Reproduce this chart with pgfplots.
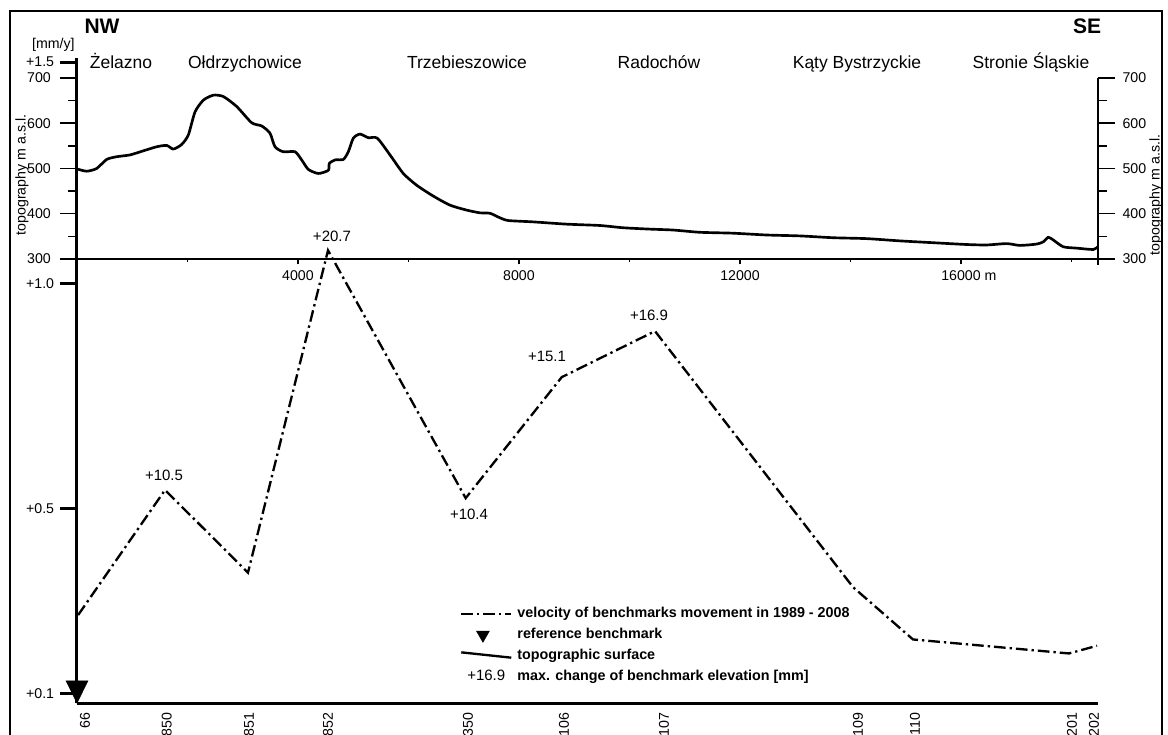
\documentclass[border=0pt]{standalone}
\usepackage{pgfplots}
\pgfplotsset{compat=1.18}
\pgfplotsset{scaled x ticks=false, scaled y ticks=false}
\usepackage{fontspec}
\setmainfont{Liberation Sans}
\newcommand{\tickfont}{\fontsize{8.5}{10}\selectfont}
\newcommand{\townfont}{\fontsize{10.5}{12}\selectfont}
\begin{document}
\begin{tikzpicture}
\useasboundingbox (0,0) rectangle (700.8pt,441pt);
% outer frame
\draw[line width=1.6pt] (6pt,0pt) -- (6pt,434.4pt) -- (697.2pt,434.4pt) -- (697.2pt,0pt);

% ---------- topography: left y ticks ----------
\begin{axis}[
  at={(46.2pt,285.6pt)}, anchor=south west, scale only axis,
  width=612.6pt, height=108.6pt,
  xmin=0, xmax=18480, ymin=300, ymax=700,
  axis line style={draw=none},
  xtick=\empty,
  ytick={300,400,500,600,700}, yticklabels={300,400,500,600,700},
  minor ytick={350,450,550,650},
  ytick pos=left, tick align=outside,
  major tick length=10.2pt, minor tick length=5.4pt,
  tick style={black, line width=0.9pt},
  yticklabel style={font=\tickfont, xshift=-2pt},
]
\addplot[draw=none] coordinates {(0,300)};
\end{axis}

% ---------- topography: right y ticks ----------
\begin{axis}[
  at={(46.2pt,285.6pt)}, anchor=south west, scale only axis,
  width=612.6pt, height=108.6pt,
  xmin=0, xmax=18480, ymin=300, ymax=700,
  axis line style={draw=none},
  xtick=\empty,
  ytick={300,400,500,600,700}, yticklabels={300,400,500,600,700},
  minor ytick={350,450,550,650},
  ytick pos=right, yticklabel pos=right, tick align=outside,
  major tick length=10.2pt, minor tick length=5.4pt,
  tick style={black, line width=0.9pt},
  yticklabel style={font=\tickfont, xshift=1pt},
]
\addplot[draw=none] coordinates {(0,300)};
\end{axis}

% ---------- topography: x axis and profile ----------
\begin{axis}[
  at={(46.2pt,285.6pt)}, anchor=south west, scale only axis,
  width=612.6pt, height=108.6pt,
  xmin=0, xmax=18480, ymin=300, ymax=700,
  axis line style={draw=none},
  ytick=\empty,
  xtick={4000,8000,12000,16000}, xticklabels={4000,8000,12000,16000\rlap{ m}},
  minor xtick={2000,6000,10000,14000,18000},
  xtick pos=bottom, tick align=outside,
  major tick length=3.2pt, minor tick length=2pt,
  tick style={black, line width=0.7pt},
  xticklabel style={font=\tickfont},
  clip=false,
]
\draw[line width=0.9pt] (rel axis cs:0,0) -- (rel axis cs:1,0);
\draw[line width=0.9pt] (rel axis cs:1,1) -- ([yshift=-3.6pt]rel axis cs:1,0);
\addplot[black, line width=1.6pt, smooth, tension=0.4] table {
0 499
175 494
356 500
537 520
718 526
959 530
1200 539
1442 548
1623 551
1743 543
1894 553
2015 574
2136 625
2287 651
2468 662
2649 659
2890 637
3162 601
3343 594
3493 578
3584 548
3734 537
3946 537
4066 519
4187 498
4368 489
4549 496
4567 511
4670 519
4820 520
4911 537
5001 567
5122 576
5273 568
5435 567
5665 530
5906 489
6148 463
6449 439
6751 419
7053 408
7294 402
7475 401
7656 391
7806 385
8259 382
8862 377
9466 374
9888 369
10371 366
10787 364
11276 359
11878 357
12483 353
13086 351
13683 347
14293 345
14896 340
15493 336
16103 332
16465 331
16827 334
17068 330
17370 333
17490 338
17580 348
17670 342
17851 327
18093 324
18395 321
18475 327
};
\end{axis}

% ---------- velocity axis ----------
\begin{axis}[
  at={(46.2pt,19.14pt)}, anchor=south west, scale only axis,
  width=612.6pt, height=387.3pt,
  xmin=0, xmax=18480, ymin=0.07, ymax=1.5,
  axis x line=bottom, axis y line=left,
  axis line style={line width=1.8pt, -},
  ytick={0.0917,0.5,1.0,1.49}, yticklabels={+0.1,+0.5,+1.0,+1.5},
  ytick style={line width=1.8pt, black},
  tick align=outside, major tick length=10.2pt,
  xtick={145,1624,3113,4543,7077,8814,10624,14136,15167,18009,18407},
  xticklabels={66,850,851,852,350,106,107,109,110,201,202},
  xtick style={draw=none},
  xticklabel shift=-8pt,
  xticklabel style={rotate=90, anchor=east, font=\fontsize{8.5}{10}\selectfont},
  yticklabel style={font=\tickfont},
  clip=false,
  legend cell align=left,
  legend style={at={(0.370,0.159)}, anchor=north west, draw=none, fill=none,
    font=\bfseries\fontsize{8.6}{10}\selectfont, row sep=0.8pt,
    column sep=1pt},
]
\addplot[forget plot, black, line width=1.4pt, dash pattern=on 7pt off 2.4pt on 1.4pt off 2.4pt]
  coordinates {
  (20,0.265) (1593,0.542) (3095,0.359) (4543,1.073) (7035,0.524)
  (8773,0.792) (10462,0.894) (14045,0.327) (15131,0.211) (17955,0.180) (18462,0.197)
  };
\addplot[forget plot, only marks, mark=triangle*, mark size=8.8pt, black,
  mark options={rotate=180, xscale=0.85, fill=black}]
  coordinates {(0,0.1028)};
\node[font=\fontsize{9}{10}\selectfont] at (axis cs:1575,0.575) {+10.5};
\node[font=\fontsize{9}{10}\selectfont] at (axis cs:4615,1.105) {+20.7};
\node[font=\fontsize{9}{10}\selectfont] at (axis cs:7095,0.488) {+10.4};
\node[font=\fontsize{9}{10}\selectfont] at (axis cs:8507,0.837) {+15.1};
\node[font=\fontsize{9}{10}\selectfont] at (axis cs:10353,0.928) {+16.9};
\addlegendimage{legend image code/.code={\draw[black, line width=1.4pt, dash pattern=on 7pt off 2.4pt on 1.4pt off 2.4pt] (0pt,0pt) -- (30pt,0pt);}}
\addlegendentry{velocity of benchmarks movement in 1989 - 2008}
\addlegendimage{legend image code/.code={\draw[black, mark=triangle*, mark size=4.4pt, mark options={rotate=180, fill=black}] plot coordinates {(13pt,0pt)};}}
\addlegendentry{reference benchmark}
\addlegendimage{legend image code/.code={\draw[black, line width=1.4pt] (0pt,2pt) -- (30pt,-1.2pt);}}
\addlegendentry{topographic surface}
\addlegendimage{legend image code/.code={\node[anchor=center, inner sep=0pt, font=\mdseries\fontsize{9}{10}\selectfont] at (15pt,0pt) {+16.9};}}
\addlegendentry{max. change of benchmark elevation [mm]}
\end{axis}

% ---------- texts ----------
\node[font=\bfseries\fontsize{12.6}{14}\selectfont] at (61.2pt,425.4pt) {NW};
\node[font=\bfseries\fontsize{12.6}{14}\selectfont] at (652.2pt,425.4pt) {SE};
\node[font=\tickfont] at (32pt,414.3pt) {[mm/y]};
\node[font=\townfont, anchor=base] at (72.6pt,400pt) {Żelazno};
\node[font=\townfont, anchor=base] at (147pt,400pt) {Ołdrzychowice};
\node[font=\townfont, anchor=base] at (280.2pt,400pt) {Trzebieszowice};
\node[font=\townfont, anchor=base] at (395.4pt,400pt) {Radochów};
\node[font=\townfont, anchor=base] at (514.2pt,400pt) {Kąty Bystrzyckie};
\node[font=\townfont, anchor=base] at (618.6pt,400pt) {Stronie Śląskie};
\node[font=\tickfont, rotate=90] at (13.2pt,336pt) {topography m a.s.l.};
\node[font=\tickfont, rotate=90] at (693.6pt,324pt) {topography m a.s.l.};
\end{tikzpicture}
\end{document}
